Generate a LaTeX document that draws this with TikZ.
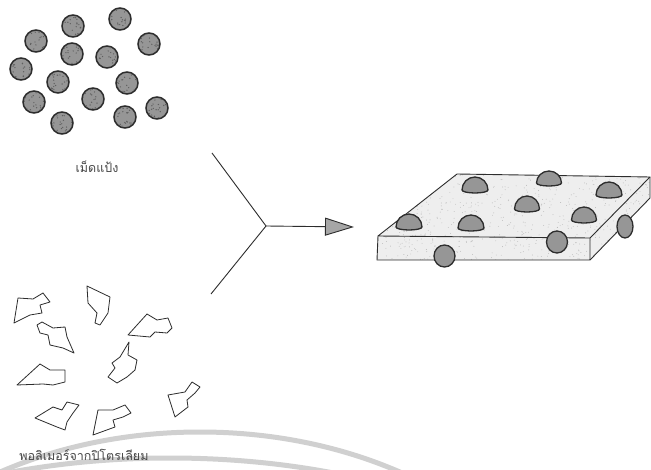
\documentclass[tikz,border=0pt]{standalone}
\usepackage{fontspec}
\newfontfamily\thaifont[Script=Thai]{Loma}
\usetikzlibrary{arrows.meta}

\definecolor{ink}{RGB}{45,45,45}
\definecolor{starch}{RGB}{150,150,150}
\definecolor{speck}{RGB}{95,95,95}
\definecolor{sheet}{RGB}{238,238,238}
\definecolor{sheetspeck}{RGB}{185,185,185}
\definecolor{swoosh}{RGB}{208,208,208}
\definecolor{labelgray}{RGB}{70,70,70}

\tikzset{
  granule/.style={circle, draw=ink, line width=1.5pt, fill=starch, minimum size=22pt, inner sep=0pt},
  flake/.style={draw=ink, line width=0.8pt, line join=round, fill=white},
  bead/.style={draw=ink, line width=1.3pt, fill=starch},
  slabface/.style={draw=ink, line width=0.9pt, line join=round},
  armline/.style={draw=ink, line width=0.9pt},
  thailabel/.style={font=\thaifont\fontsize{12.5}{14}\selectfont, text=labelgray, inner sep=0pt},
}

% dome bead sitting on the top face: base centre, half width, height
\newcommand{\domebead}[4]{%
  \path[bead] (#1-#3,#2) arc[start angle=180,end angle=0,x radius=#3,y radius=-#4]
    arc[start angle=0,end angle=-180,x radius=#3,y radius=-3] -- cycle;}

\begin{document}
\begin{tikzpicture}[x=1pt,y=-1pt]
\useasboundingbox (0,0) rectangle (651,470);
\fill[white] (0,0) rectangle (651,470);

% swooshes at the foot of the page
\begin{scope}
  \clip (0,0) rectangle (651,470);
  \draw[swoosh, line width=5pt] (200,700) ++(-380,0) arc[start angle=180,end angle=0,x radius=380,y radius=-268];
  \draw[swoosh, line width=5pt] (170,700) ++(-471,0) arc[start angle=180,end angle=0,x radius=471,y radius=-242];
\end{scope}

% ---- starch granules ----
\foreach \n/\x/\y in {1/73/26, 2/120/19, 3/36/41, 4/149/44, 5/72/54, 6/107/57, 7/21/69,
                      8/58/82, 9/127/83, 10/34/102, 11/93/99, 12/157/108, 13/62/123, 14/125/117}{
  \node[granule] (s\n) at (\x,\y) {};
  \begin{scope}
    \clip (\x,\y) circle (10);
    \pgfmathsetseed{\n*37}
    \foreach \k in {1,...,22}{
      \fill[speck] ({\x-10+20*rnd},{\y-10+20*rnd}) circle (0.7);
    }
  \end{scope}
}
\node[thailabel] (starchlbl) at (97,167) {เม็ดแป้ง};

% ---- petroleum polymer flakes ----
\path[flake] (14,323) -- (18,298) -- (33,299) -- (43,293) -- (50,302) -- (40,305) -- (42,313) -- (30,315) -- cycle;
\path[flake] (87,286) -- (110,297) -- (108,313) -- (100,325) -- (95,323) -- (97,313) -- (88,303) -- cycle;
\path[flake] (37,325) -- (42,322) -- (53,328) -- (65,327) -- (67,337) -- (74,353) -- (63,348) -- (50,345) -- (48,335) -- (40,333) -- cycle;
\path[flake] (128,335) -- (147,314) -- (157,320) -- (168,318) -- (172,328) -- (167,333) -- (155,332) -- (150,337) -- cycle;
\path[flake] (129,342) -- (128,355) -- (137,360) -- (135,370) -- (127,377) -- (117,383) -- (108,377) -- (115,368) -- (112,363) -- (120,357) -- cycle;
\path[flake] (17,385) -- (40,364) -- (50,370) -- (65,370) -- (65,382) -- (53,385) -- (43,384) -- cycle;
\path[flake] (35,418) -- (53,407) -- (62,410) -- (67,402) -- (79,405) -- (73,413) -- (67,422) -- (65,430) -- (57,427) -- cycle;
\path[flake] (93,435) -- (98,410) -- (113,410) -- (125,405) -- (131,413) -- (123,417) -- (113,420) -- (115,427) -- cycle;
\path[flake] (168,395) -- (185,392) -- (192,382) -- (200,387) -- (195,393) -- (187,400) -- (188,407) -- (175,417) -- cycle;
\node[thailabel] (polylbl) at (84,455) {พอลิเมอร์จากปิโตรเลียม};

% ---- mixing arrow ----
\coordinate (armA) at (212,153);
\coordinate (join) at (266,226);
\coordinate (armB) at (211,294);
\coordinate (tip) at (354,227);
\draw[armline] (armA) -- (join) -- (armB);
\draw[armline, -{Triangle[length=29pt,width=18pt,fill=starch!85]}] (join) -- (tip);

% ---- composite sheet ----
\coordinate (tfl) at (378,236);
\coordinate (tbl) at (457,174);
\coordinate (tbr) at (650,177);
\coordinate (tfr) at (590,238);
\coordinate (bfl) at (377,260);
\coordinate (bfr) at (590,260);
\coordinate (bbr) at (650,198);
\fill[sheet] (tfl) -- (tbl) -- (tbr) -- (bbr) -- (bfr) -- (bfl) -- cycle;
\begin{scope}
  \clip (tfl) -- (tbl) -- (tbr) -- (bbr) -- (bfr) -- (bfl) -- cycle;
  \pgfmathsetseed{4242}
  \foreach \k in {1,...,700}{
    \fill[sheetspeck] ({377+273*rnd},{174+86*rnd}) circle (0.45);
  }
\end{scope}
\draw[slabface] (tfl) -- (tbl) -- (tbr) -- (tfr) -- cycle;
\draw[slabface] (tfl) -- (bfl) -- (bfr) -- (tfr);
\draw[slabface] (bfr) -- (bbr) -- (tbr);

% beads on the top face
\domebead{475}{190}{13}{13}
\domebead{549}{183}{12.5}{12}
\domebead{609}{195}{13}{13}
\domebead{527}{209}{12.5}{13}
\domebead{584}{220}{12.5}{13}
\domebead{409}{227}{13}{13}
\domebead{471}{228}{13}{13}

% beads showing on the edges
\path[bead] (444.5,256) ellipse[x radius=10.5,y radius=11];
\path[bead] (557,242) ellipse[x radius=10.5,y radius=11];
\path[bead] (625,226.5) ellipse[x radius=8,y radius=11.5];
\end{tikzpicture}
\end{document}
